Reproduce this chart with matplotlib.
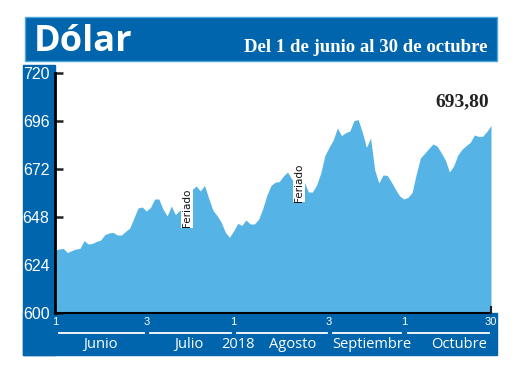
import matplotlib
matplotlib.use('Agg')
import matplotlib.pyplot as plt
from matplotlib.patches import Rectangle
import matplotlib.transforms as mtransforms

# dolar observado, business days from 1 June to 30 October 2018
values = [631.5, 632.0, 632.3, 630.2, 631.2, 632.0, 632.3, 636.2, 634.5, 634.8,
          635.8, 636.5, 639.2, 640.0, 640.3, 639.0, 639.0, 640.8, 642.5, 647.5,
          652.5, 653.0, 651.0, 652.8, 657.0, 657.0, 652.0, 648.5, 653.5, 649.2,
          651.3, 651.7, 656.5, 661.7, 663.5, 661.0, 663.8, 657.5, 651.5, 648.8,
          645.5, 640.5, 637.8, 641.0, 644.8, 643.8, 646.5, 644.5, 644.5, 646.8,
          652.0, 658.8, 663.7, 665.4, 665.7, 668.5, 670.5, 667.0, 664.5, 664.8,
          665.8, 660.5, 660.5, 664.0, 670.0, 678.8, 682.8, 686.5, 692.5, 688.7,
          690.2, 691.0, 696.2, 696.7, 690.5, 682.8, 687.5, 671.5, 665.0, 669.0,
          668.8, 665.5, 661.8, 658.5, 657.0, 657.8, 660.3, 669.5, 677.5, 679.8,
          682.2, 684.5, 683.5, 680.2, 676.5, 670.5, 673.5, 679.0, 681.8, 683.7,
          685.3, 689.0, 688.3, 688.4, 690.8, 693.8]

yticks = [600, 624, 648, 672, 696, 720]
day_ticks = [0, 22, 43, 66, 84, 105]
day_labels = ['1', '3', '1', '3', '1', '30']
months = ['Junio', 'Julio', 'Agosto', 'Septiembre', 'Octubre']
month_pos = [11, 32.3, 57.3, 76.3, 97.3]
year_label = '2018'
year_pos = 44
feriados = [31.8, 58.8]
feriado_y = [652.5, 665.3]
last_label = '693,80'

dark = '#0065AC'
light = '#55B4E5'
edge = '#4DA6DF'
W, H = 520, 390

sans = ['Open Sans', 'DejaVu Sans']
serif = ['Liberation Serif', 'DejaVu Serif']

fig = plt.figure(figsize=(W / 100, H / 100), dpi=100)

def box(x0, y0, x1, y1, color, ec=None):
    # rectangle in pixel coords, y measured from top
    r = Rectangle((x0 / W, 1 - y1 / H), (x1 - x0) / W, (y1 - y0) / H,
                  transform=fig.transFigure, facecolor=color,
                  edgecolor=ec if ec else color, linewidth=1, zorder=-5)
    fig.patches.append(r)

# header bar
box(25, 17, 497, 61, dark, edge)
fig.text(34 / W, 1 - 51 / H, 'Dólar', color='white', fontsize=26,
         fontweight='bold', family=sans, va='baseline')
fig.text(487 / W, 1 - 52 / H, 'Del 1 de junio al 30 de octubre', color='white',
         fontsize=13.5, fontweight='bold', family=serif, ha='right', va='baseline')

# left and bottom bands
box(23, 65, 55, 355, dark)
box(23, 313, 497, 355, dark)

ax = fig.add_axes([55 / W, 1 - 313 / H, (491 - 55) / W, (313 - 73) / H])
ax.patch.set_alpha(0)
x = list(range(len(values)))
ax.fill_between(x, 600, values, color=light, linewidth=0, zorder=2)
ax.set_xlim(0, len(values) - 1)
ax.set_ylim(600, 720)

for s in ['top', 'right']:
    ax.spines[s].set_visible(False)
ax.spines['left'].set_linewidth(2)
ax.spines['bottom'].set_linewidth(1.5)
ax.spines['left'].set_zorder(5)
ax.spines['bottom'].set_zorder(5)

ax.set_yticks(yticks)
ax.set_yticklabels([str(v) for v in yticks], family='Liberation Sans',
                   fontsize=11.5, color='white')
ax.tick_params(axis='y', direction='in', length=6, width=1.8, color='#222222',
               pad=4)

ax.set_xticks(day_ticks)
ax.set_xticklabels(day_labels, family='Liberation Sans', fontsize=8,
                   color='white')
ax.tick_params(axis='x', length=0, pad=3)

# small end mark on the right
ax.plot([x[-1], x[-1]], [600, 603], color='#222222', lw=1.5, clip_on=False,
        zorder=6)

trans = mtransforms.blended_transform_factory(ax.transData, ax.transAxes)
# month separator lines
for i in range(len(months)):
    a = day_ticks[i] + 0.9
    b = day_ticks[i + 1] - 0.6
    ax.plot([a, b], [-0.083, -0.083], color='white', lw=1.3, transform=trans,
            clip_on=False)
for m, p in zip(months, month_pos):
    ax.text(p, -0.13, m, transform=trans, ha='center', va='center',
            color='white', fontsize=10.5, family=sans)
ax.text(year_pos, -0.13, year_label, transform=trans, ha='center',
        va='center', color='white', fontsize=10.5, family=sans)

for fx, fy in zip(feriados, feriado_y):
    ax.text(fx, fy, 'Feriado', rotation=90, ha='center', va='center',
            fontsize=7.5, color='#111111', zorder=4,
            bbox=dict(facecolor='white', edgecolor='none', pad=0.6))

ax.text(x[-1] - 0.5, 703.5, last_label, ha='right', va='baseline',
        fontsize=14, fontweight='bold', family=serif, color='#222222')

fig.savefig('out.png', dpi=100)
